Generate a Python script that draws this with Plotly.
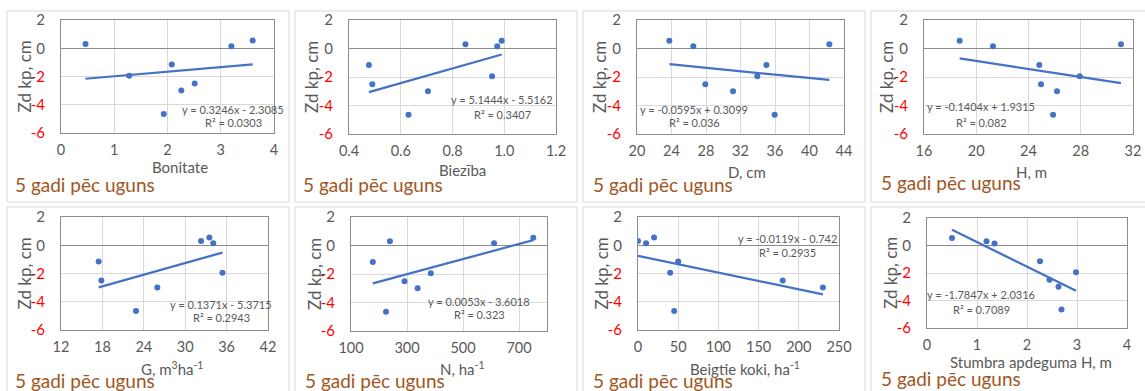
import plotly.graph_objects as go

W, H = 1145, 391

# ---------------- data ----------------
# Zd kp, cm for the 8 stands (same stands in every panel)
zd = [0.3, -1.95, -1.15, -4.65, -3.0, -2.5, 0.15, 0.55]

bonitate = [0.46, 1.28, 2.08, 1.93, 2.26, 2.51, 3.2, 3.6]
bieziba = [0.85, 0.953, 0.477, 0.63, 0.705, 0.49, 0.973, 0.99]
d_cm = [42.3, 33.95, 35.0, 35.96, 31.13, 27.92, 26.53, 23.75]
h_m = [31.08, 27.92, 24.83, 25.88, 26.18, 24.96, 21.28, 18.73]
g_m3 = [32.3, 35.4, 17.46, 22.87, 25.96, 17.85, 34.07, 33.5]
n_ha = [239, 385, 178, 225, 338, 291, 611, 751]
beigtie = [0, 40, 50, 45, 230, 180, 10, 20]
stumbra = [1.19, 2.98, 2.26, 2.69, 2.63, 2.45, 1.35, 0.5]

x_series = [bonitate, bieziba, d_cm, h_m, g_m3, n_ha, beigtie, stumbra]

x_titles = ["Bonitate", "Biezība", "D, cm", "H, m",
            "G, m<sup>3</sup>ha<sup>-1</sup>", "N, ha<sup>-1</sup>",
            "Beigtie koki, ha<sup>-1</sup>", "Stumbra apdeguma H, m"]
y_title = "Zd kp, cm"
subtitle = "5 gadi pēc uguns"

slopes = [0.3246, 5.1444, -0.0595, -0.1404, 0.1371, 0.0053, -0.0119, -1.7847]
intercepts = [-2.3085, -5.5162, 0.3099, 1.9315, -5.3715, -3.6018, -0.742, 2.0316]
eq_labels = ["y = 0.3246x - 2.3085", "y = 5.1444x - 5.5162", "y = -0.0595x + 0.3099",
             "y = -0.1404x + 1.9315", "y = 0.1371x - 5.3715", "y = 0.0053x - 3.6018",
             "y = -0.0119x - 0.742", "y = -1.7847x + 2.0316"]
r2_labels = ["R² = 0.0303", "R² = 0.3407", "R² = 0.036", "R² = 0.082",
             "R² = 0.2943", "R² = 0.323", "R² = 0.2935", "R² = 0.7089"]

x_ranges = [[0, 4], [0.4, 1.2], [20, 44], [16, 32], [12, 42], [100, 800], [0, 250], [0, 4]]
x_ticks = [[0, 1, 2, 3, 4], [0.4, 0.6, 0.8, 1.0, 1.2], [20, 24, 28, 32, 36, 40, 44],
           [16, 20, 24, 28, 32], [12, 18, 24, 30, 36, 42], [100, 300, 500, 700],
           [0, 50, 100, 150, 200, 250], [0, 1, 2, 3, 4]]
x_tickformats = ["", ".1f", "", "", "", "", "", ""]
y_ticks = [2, 0, -2, -4, -6]
y_range = [-6, 2]

# ---------------- layout geometry (pixels) ----------------
plot_boxes = [  # x0, x1, y0(top), y1(bottom)
    (61, 274, 20, 133), (349, 556, 20, 134), (637, 844, 20, 134), (924, 1133, 20, 134),
    (61, 268, 217, 330), (351, 547, 217, 331), (638, 839, 217, 330), (927, 1127, 218, 328),
]
panel_boxes = [
    (7, 289, 11, 202), (295, 577, 11, 202), (583, 865, 11, 202), (871, 1150, 11, 202),
    (7, 289, 207, 400), (295, 577, 207, 400), (583, 865, 207, 400), (871, 1150, 207, 400),
]
eq_pos = [(233, 109, 122), (502, 99, 114), (694, 109, 123), (981, 107, 122),
          (221, 304, 317), (479, 301, 314), (787, 238, 252), (981, 294, 309)]
xtitle_pos = [(180, 167), (462, 170), (747, 172), (1031, 172),
              (172, 368), (462, 368), (745, 368), (1031, 362)]
sub_pos = [(13, 184), (301, 184), (591, 184), (879, 183),
           (13, 380), (303, 380), (591, 380), (879, 378)]

FONT = "Lato, Calibri, Carlito, sans-serif"
GRAY = "#595959"
BLUE = "#4472C4"
BROWN = "#A0561E"


def px(x):
    return x / W


def py(y):
    return 1 - y / H


fig = go.Figure()
annotations = []
shapes = []
layout = {}

y_ticktext = []
for v in y_ticks:
    if v < 0:
        y_ticktext.append('<span style="color:#FF0000">%d</span>' % v)
    else:
        y_ticktext.append(str(v))

for i in range(8):
    k = "" if i == 0 else str(i + 1)
    xa, ya = "x" + k, "y" + k
    x0, x1, t, b = plot_boxes[i]
    xs = x_series[i]

    fig.add_trace(go.Scatter(x=xs, y=zd, mode="markers", xaxis=xa, yaxis=ya,
                             marker=dict(color=BLUE, size=6), showlegend=False,
                             hoverinfo="x+y"))
    lx = [min(xs), max(xs)]
    ly = [slopes[i] * v + intercepts[i] for v in lx]
    fig.add_trace(go.Scatter(x=lx, y=ly, mode="lines", xaxis=xa, yaxis=ya,
                             line=dict(color=BLUE, width=2.25), showlegend=False,
                             hoverinfo="skip"))

    if x_tickformats[i]:
        xt_text = [format(v, x_tickformats[i]) for v in x_ticks[i]]
    else:
        xt_text = [str(v) for v in x_ticks[i]]

    layout["xaxis" + k] = dict(
        domain=[px(x0), px(x1)], anchor=ya, range=x_ranges[i],
        tickvals=x_ticks[i], ticktext=xt_text, automargin=False,
        showgrid=True, gridcolor="#D9D9D9", gridwidth=1,
        showline=True, mirror=True, linecolor="#8C8C8C", linewidth=1,
        zeroline=False, ticks="", ticklabelstandoff=4,
        tickfont=dict(family=FONT, size=14.5, color=GRAY), fixedrange=True,
    )
    layout["yaxis" + k] = dict(
        domain=[py(b), py(t)], anchor=xa, range=y_range,
        tickvals=y_ticks, ticktext=y_ticktext, automargin=False,
        showgrid=True, gridcolor="#D9D9D9", gridwidth=1,
        showline=True, mirror=True, linecolor="#8C8C8C", linewidth=1,
        zeroline=True, zerolinecolor="#8C8C8C", zerolinewidth=1,
        ticks="", ticklabelstandoff=12,
        tickfont=dict(family=FONT, size=15, color=GRAY), fixedrange=True,
    )

    # panel border
    pb = panel_boxes[i]
    shapes.append(dict(type="rect", xref="paper", yref="paper",
                       x0=px(pb[0]), x1=px(pb[1]), y0=py(pb[3]), y1=py(pb[2]),
                       line=dict(color="#D9D9D9", width=1), layer="below"))

    # y title
    annotations.append(dict(text=y_title, xref="paper", yref="paper",
                            x=px(x0 - 37), y=py((t + b) / 2), textangle=-90,
                            showarrow=False, xanchor="center", yanchor="middle",
                            font=dict(family=FONT, size=17, color=GRAY)))
    # x title
    xtp = xtitle_pos[i]
    annotations.append(dict(text=x_titles[i], xref="paper", yref="paper",
                            x=px(xtp[0]), y=py(xtp[1]), showarrow=False,
                            xanchor="center", yanchor="middle",
                            font=dict(family=FONT, size=15, color=GRAY)))
    # equation + R2
    ep = eq_pos[i]
    annotations.append(dict(text=eq_labels[i], xref="paper", yref="paper",
                            x=px(ep[0]), y=py(ep[1]), showarrow=False,
                            xanchor="center", yanchor="middle",
                            font=dict(family=FONT, size=11, color=GRAY)))
    annotations.append(dict(text=r2_labels[i], xref="paper", yref="paper",
                            x=px(ep[0]), y=py(ep[2]), showarrow=False,
                            xanchor="center", yanchor="middle",
                            font=dict(family=FONT, size=11, color=GRAY)))
    # subtitle
    sp = sub_pos[i]
    annotations.append(dict(text=subtitle, xref="paper", yref="paper",
                            x=px(sp[0]), y=py(sp[1]), showarrow=False,
                            xanchor="left", yanchor="middle",
                            font=dict(family=FONT, size=19, color=BROWN)))

fig.update_layout(
    width=W, height=H, margin=dict(l=0, r=0, t=0, b=0, autoexpand=False),
    paper_bgcolor="white", plot_bgcolor="white",
    annotations=annotations, shapes=shapes, showlegend=False,
    **layout,
)

fig.write_html("out.html", config={"displayModeBar": False},
               post_script="document.body.style.margin='0px';"
                           "document.body.style.overflow='hidden';")
